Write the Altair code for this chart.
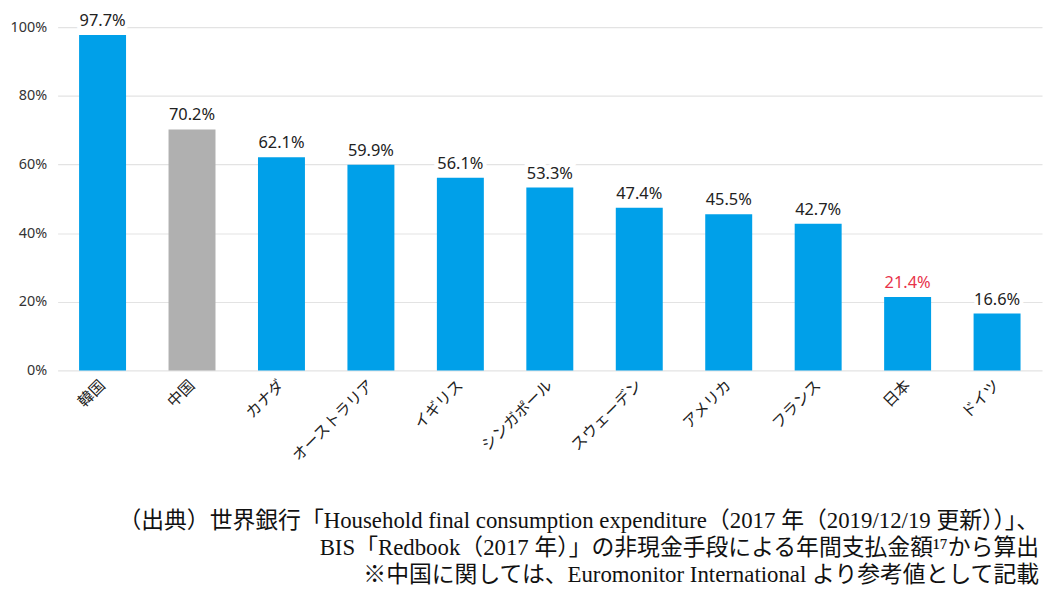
import altair as alt
import pandas as pd

countries = ["韓国", "中国", "カナダ", "オーストラリア", "イギリス", "シンガポール",
             "スウェーデン", "アメリカ", "フランス", "日本", "ドイツ"]
values = [97.7, 70.2, 62.1, 59.9, 56.1, 53.3, 47.4, 45.5, 42.7, 21.4, 16.6]
bar_colors = ["#00A0E9", "#B0B0B0", "#00A0E9", "#00A0E9", "#00A0E9", "#00A0E9",
              "#00A0E9", "#00A0E9", "#00A0E9", "#00A0E9", "#00A0E9"]
label_colors = ["#222222"] * 9 + ["#E8334A", "#222222"]
source_lines = [
    "（出典）世界銀行「Household final consumption expenditure（2017 年（2019/12/19 更新））」、",
    "BIS「Redbook（2017 年）」の非現金手段による年間支払金額¹⁷から算出",
    "※中国に関しては、Euromonitor International より参考値として記載",
]

df = pd.DataFrame({
    "country": countries,
    "share": [v / 100 for v in values],
    "label": [f"{v:.1f}%" for v in values],
    "bar_color": bar_colors,
    "label_color": label_colors,
})

x = alt.X("country:N", sort=countries,
          scale=alt.Scale(paddingInner=0.475, paddingOuter=0.24),
          axis=alt.Axis(title=None, labelAngle=-45, labelAlign="right",
                        labelBaseline="middle", labelFontSize=15.5,
                        labelFont="Noto Sans CJK JP", labelColor="#222222",
                        labelPadding=12, ticks=False, domain=False, grid=False))
y = alt.Y("share:Q", scale=alt.Scale(domain=[0, 1], nice=False),
          axis=alt.Axis(title=None, format=".0%", values=[0, 0.2, 0.4, 0.6, 0.8, 1.0],
                        labelFontSize=14.5, labelFont="Noto Sans", labelColor="#333333",
                        labelPadding=11, ticks=False, domain=False, grid=True,
                        gridColor="#E3E3E3", gridWidth=1.2))

base = alt.Chart(df)

bars = base.mark_bar().encode(
    x=x, y=y,
    color=alt.Color("bar_color:N", scale=None),
)

halo = base.mark_text(dy=-14, fontSize=16.5, font="Noto Sans", stroke="white",
                      strokeWidth=8, color="white").encode(
    x=alt.X("country:N", sort=countries), y=alt.Y("share:Q"), text="label:N")

labels = base.mark_text(dy=-14, fontSize=16.5, font="Noto Sans").encode(
    x=alt.X("country:N", sort=countries), y=alt.Y("share:Q"), text="label:N",
    color=alt.Color("label_color:N", scale=None),
)

chart = (bars + halo + labels).properties(
    width=992, height=346,
    autosize=alt.AutoSizeParams(type="none"),
    padding={"left": 50, "top": 17, "right": 2, "bottom": 222},
    title=alt.TitleParams(
        text=source_lines, orient="bottom", anchor="end",
        font="Liberation Serif, Noto Sans CJK JP", fontSize=23, fontWeight="normal",
        color="#111111", lineHeight=27, offset=46, dx=-3,
    ),
).configure_view(stroke=None)

chart.save("out.html", embed_options={"renderer": "svg", "actions": False})
